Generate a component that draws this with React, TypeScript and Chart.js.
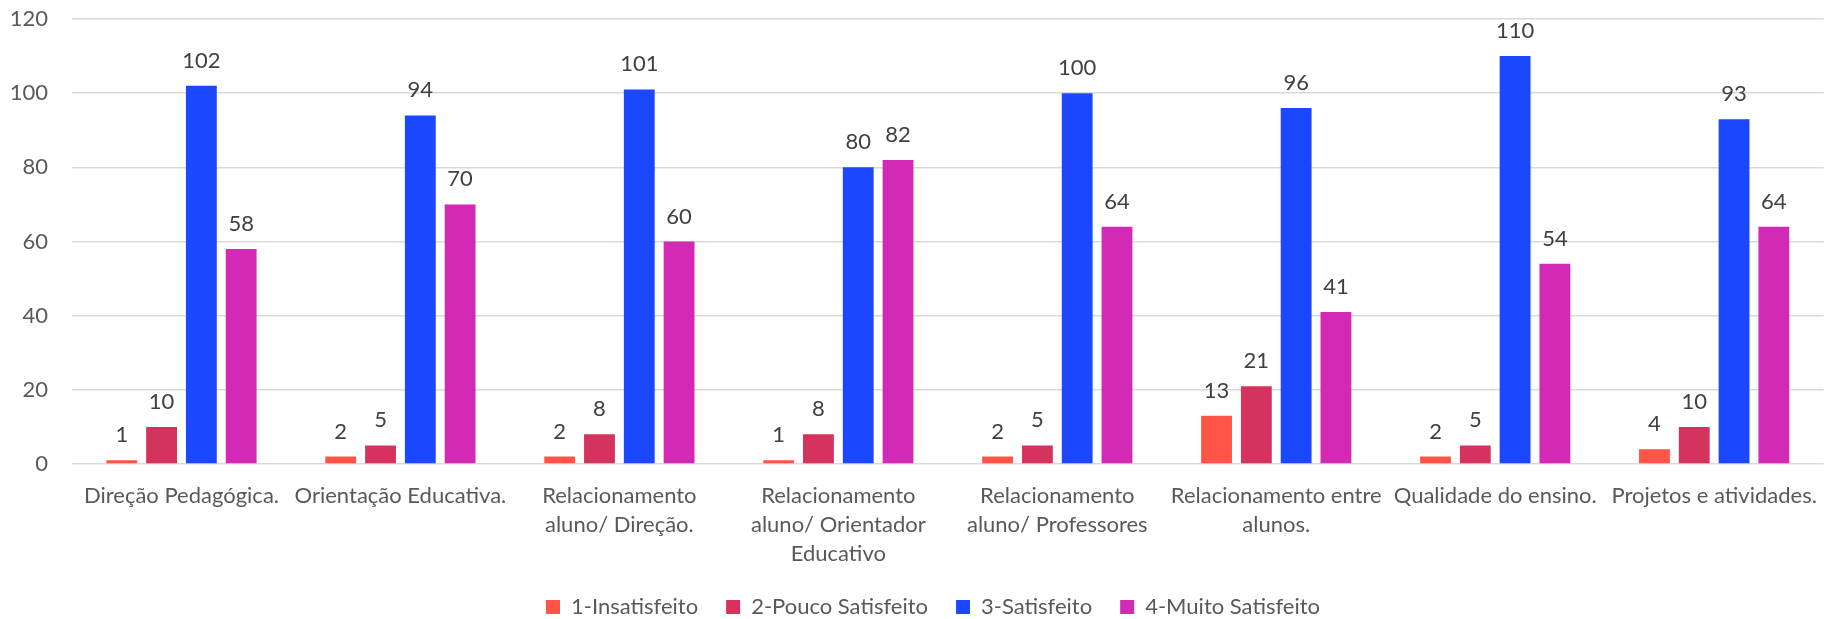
import React, { useEffect, useRef } from "react";
import { Chart, registerables } from "chart.js";

Chart.register(...registerables);

const categories: (string | string[])[] = [
  "Direção Pedagógica.",
  "Orientação Educativa.",
  ["Relacionamento", "aluno/ Direção."],
  ["Relacionamento", "aluno/ Orientador", "Educativo"],
  ["Relacionamento", "aluno/ Professores"],
  ["Relacionamento entre", "alunos."],
  "Qualidade do ensino.",
  "Projetos e atividades.",
];

const seriesNames = ["1-Insatisfeito", "2-Pouco Satisfeito", "3-Satisfeito", "4-Muito Satisfeito"];
const insatisfeito = [1, 2, 2, 1, 2, 13, 2, 4];
const poucoSatisfeito = [10, 5, 8, 8, 5, 21, 5, 10];
const satisfeito = [102, 94, 101, 80, 100, 96, 110, 93];
const muitoSatisfeito = [58, 70, 60, 82, 64, 41, 54, 64];
const yTicks = [0, 20, 40, 60, 80, 100, 120];

const colors = ["#FF5447", "#D3335D", "#1B48FF", "#D22AB5"];
const FONT = "Lato, 'Open Sans', sans-serif";
const FS = 22;

const valueLabels = {
  id: "valueLabels",
  afterDatasetsDraw(chart: any) {
    const ctx = chart.ctx;
    ctx.save();
    ctx.font = `${FS}px ${FONT}`;
    ctx.fillStyle = "#404040";
    ctx.textAlign = "center";
    ctx.textBaseline = "alphabetic";
    chart.data.datasets.forEach((ds: any, i: number) => {
      const meta = chart.getDatasetMeta(i);
      meta.data.forEach((el: any, j: number) => {
        ctx.fillText(String(ds.data[j]), el.x, el.y - 18);
      });
    });
    ctx.restore();
  },
};

const layoutTweak = {
  id: "layoutTweak",
  afterLayout(chart: any) {
    const lg = chart.legend;
    if (lg) {
      lg.left += 17;
      lg.right += 17;
      lg.top += 9;
      lg.bottom += 9;
    }
    const x = chart.scales.x;
    if (x) x.bottom = chart.height;
  },
};

export default function App() {
  const ref = useRef<HTMLCanvasElement | null>(null);
  useEffect(() => {
    if (!ref.current) return;
    const series = [insatisfeito, poucoSatisfeito, satisfeito, muitoSatisfeito];
    const chart = new Chart(ref.current, {
      type: "bar",
      data: {
        labels: categories,
        datasets: series.map((d, i) => ({
          label: seriesNames[i],
          data: d,
          backgroundColor: colors[i],
          borderWidth: 0,
          categoryPercentage: 0.727,
          barPercentage: 0.775,
        })),
      },
      options: {
        animation: false,
        responsive: false,
        maintainAspectRatio: false,
        layout: { padding: { top: 19, left: 0, right: 2, bottom: 0 } },
        plugins: {
          tooltip: { enabled: false },
          legend: {
            position: "bottom",
            labels: {
              boxWidth: 14,
              boxHeight: 14,
              padding: 28,
              color: "#595959",
              font: { size: FS, family: FONT },
            },
          },
        },
        scales: {
          x: {
            grid: { display: false, drawTicks: false },
            border: { display: false },
            ticks: {
              color: "#595959",
              font: { size: FS, family: FONT, lineHeight: 1.32 },
              padding: 17,
              maxRotation: 0,
              autoSkip: false,
            },
            afterFit: (s: any) => {
              s.height = 95;
            },
          },
          y: {
            min: 0,
            max: 120,
            afterBuildTicks: (s: any) => {
              s.ticks = yTicks.map((v) => ({ value: v }));
            },
            grid: {
              color: "#D9D9D9",
              lineWidth: 1.5,
              drawTicks: true,
              tickLength: 24,
              tickColor: "rgba(0,0,0,0)",
            },
            border: { display: false },
            ticks: {
              color: "#595959",
              font: { size: FS, family: FONT },
              padding: 0,
            },
            afterFit: (s: any) => {
              s.width = 72;
            },
          },
        },
      },
      plugins: [valueLabels, layoutTweak],
    });
    return () => chart.destroy();
  }, []);
  return (
    <div style={{ position: "absolute", left: 0, top: 0, width: 1834, height: 619 }}>
      <canvas ref={ref} width={1834} height={619} style={{ width: 1834, height: 619 }} />
    </div>
  );
}
